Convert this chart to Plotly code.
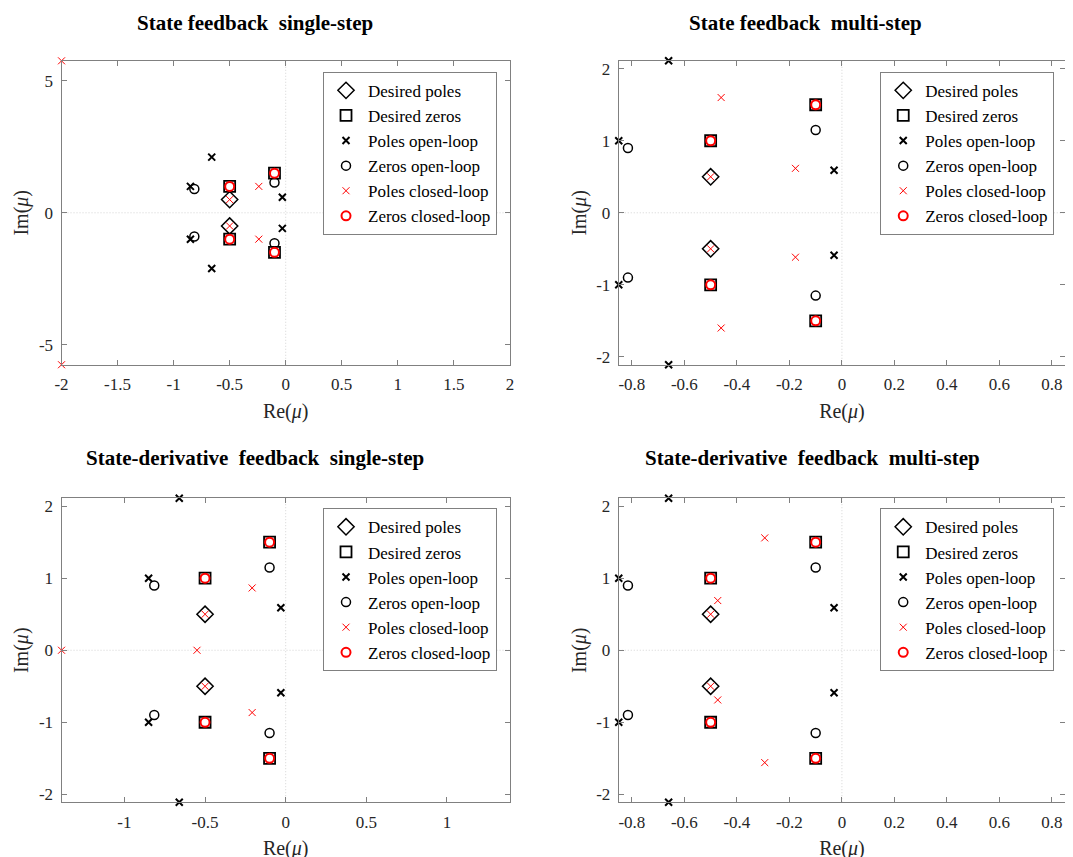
import plotly.graph_objects as go

# ---------------- data ----------------
desired_poles_re = [-0.5, -0.5]
desired_poles_im = [0.5, -0.5]
desired_zeros_re = [-0.5, -0.5, -0.1, -0.1]
desired_zeros_im = [1.0, -1.0, 1.5, -1.5]
ol_poles_re = [-0.85, -0.85, -0.66, -0.66, -0.03, -0.03]
ol_poles_im = [1.0, -1.0, 2.11, -2.11, 0.59, -0.59]
ol_zeros_re = [-0.815, -0.815, -0.1, -0.1]
ol_zeros_im = [0.9, -0.9, 1.15, -1.15]
cl_zeros_re = [-0.5, -0.5, -0.1, -0.1]
cl_zeros_im = [1.0, -1.0, 1.5, -1.5]

sf_single_cl_re = [-2.0, -2.0, -0.24, -0.24, -0.5, -0.5]
sf_single_cl_im = [5.76, -5.76, 1.0, -1.0, 0.5, -0.5]
sf_multi_cl_re = [-0.46, -0.46, -0.177, -0.177, -0.5, -0.5]
sf_multi_cl_im = [1.60, -1.60, 0.617, -0.617, 0.5, -0.5]
sd_single_cl_re = [-1.39, -0.55, -0.208, -0.208, -0.5, -0.5]
sd_single_cl_im = [0.0, 0.0, 0.865, -0.865, 0.5, -0.5]
sd_multi_cl_re = [-0.294, -0.294, -0.473, -0.473, -0.5, -0.5]
sd_multi_cl_im = [1.56, -1.56, 0.69, -0.69, 0.5, -0.5]

titles = ["State feedback  single-step", "State feedback  multi-step",
          "State-derivative  feedback  single-step", "State-derivative  feedback  multi-step"]
legend_names = ["Desired poles", "Desired zeros", "Poles open-loop", "Zeros open-loop",
                "Poles closed-loop", "Zeros closed-loop"]

x_ticks_1 = [-2, -1.5, -1, -0.5, 0, 0.5, 1, 1.5, 2]
x_ticks_2 = [-0.8, -0.6, -0.4, -0.2, 0, 0.2, 0.4, 0.6, 0.8]
x_ticks_3 = [-1, -0.5, 0, 0.5, 1]
y_ticks_1 = [-5, 0, 5]
y_ticks_2 = [-2, -1, 0, 1, 2]

panels = [
    (sf_single_cl_re, sf_single_cl_im, x_ticks_1, y_ticks_1),
    (sf_multi_cl_re, sf_multi_cl_im, x_ticks_2, y_ticks_2),
    (sd_single_cl_re, sd_single_cl_im, x_ticks_3, y_ticks_2),
    (sd_multi_cl_re, sd_multi_cl_im, x_ticks_2, y_ticks_2),
]

# ---------------- layout geometry ----------------
W, H = 1073, 857
OFF = 8  # page body margin


def px(v):
    return (v - OFF) / W


def py(v):
    return 1 - (v - OFF) / H


x_domains = [(px(55), px(508)), (px(618), px(1069))]
y_domains = [(py(365), py(60)), (py(804), py(499))]
# (center x, top y) in page pixels
title_pos = [(250, 8), (807, 8), (250, 445), (814, 445)]
legend_pos = [(495, 71), (1058, 71), (495, 509), (1058, 509)]

FONT = "Liberation Serif, Times New Roman, serif"
AXC = "#808080"
TXT = "#262626"


def fmt(v):
    return "%g" % v


fig = go.Figure()
styles = [
    dict(symbol="diamond-open", size=12.5, color="black", line=dict(width=1.5, color="black")),
    dict(symbol="square-open", size=11, color="black", line=dict(width=1.8, color="black")),
    dict(symbol="x-thin-open", size=7, color="black", line=dict(width=2, color="black")),
    dict(symbol="circle-open", size=9, color="black", line=dict(width=1.5, color="black")),
    dict(symbol="x-thin-open", size=7, color="#ff0000", line=dict(width=1, color="#ff0000")),
    dict(symbol="circle-open", size=9, color="#ff0000", line=dict(width=2, color="#ff0000")),
]

for i, (clre, clim, xt, yt) in enumerate(panels):
    k = "" if i == 0 else str(i + 1)
    leg = "legend" + k
    series = [
        (desired_poles_re, desired_poles_im),
        (desired_zeros_re, desired_zeros_im),
        (ol_poles_re, ol_poles_im),
        (ol_zeros_re, ol_zeros_im),
        (clre, clim),
        (cl_zeros_re, cl_zeros_im),
    ]
    all_re = [abs(v) for s in series for v in s[0]]
    all_im = [abs(v) for s in series for v in s[1]]
    xl, yl = max(all_re), max(all_im)
    for j, (re, im) in enumerate(series):
        fig.add_trace(go.Scatter(
            x=re, y=im, mode="markers", name=legend_names[j], marker=styles[j],
            xaxis="x" + k, yaxis="y" + k, legend=leg, cliponaxis=False, showlegend=True))
    col, row = i % 2, i // 2
    ax = dict(showline=True, linecolor=AXC, linewidth=1, mirror="ticks", ticks="inside",
              ticklen=5, tickcolor=AXC, showgrid=False, zeroline=False, ticklabelstandoff=4,
              tickfont=dict(family=FONT, size=17, color=TXT))
    fig.layout["xaxis" + k] = dict(ax, domain=x_domains[col], range=[-xl, xl],
                                   anchor="y" + k, tickvals=xt, ticktext=[fmt(v) for v in xt],
                                   title=dict(text="Re(<i>μ</i>)", font=dict(family=FONT, size=20, color=TXT), standoff=10))
    fig.layout["yaxis" + k] = dict(ax, domain=y_domains[row], range=[-yl, yl],
                                   anchor="x" + k, tickvals=yt, ticktext=[fmt(v) for v in yt],
                                   title=dict(text="Im(<i>μ</i>)", font=dict(family=FONT, size=20, color=TXT), standoff=4))
    # dotted zero lines
    fig.add_shape(type="line", xref="x" + k, yref="y" + k + " domain", x0=0, x1=0, y0=0, y1=1,
                  line=dict(color="#d4d4d4", width=1, dash="1px,2px"), layer="below")
    fig.add_shape(type="line", xref="x" + k + " domain", yref="y" + k, x0=0, x1=1, y0=0, y1=0,
                  line=dict(color="#d4d4d4", width=1, dash="1px,2px"), layer="below")
    lx, ly = legend_pos[i]
    fig.layout[leg] = dict(x=px(lx), y=py(ly), xanchor="right", yanchor="top",
                           bgcolor="white", bordercolor=AXC, borderwidth=1, itemwidth=34,
                           font=dict(family=FONT, size=17, color="black"))
    tx, ty = title_pos[i]
    fig.add_annotation(text="<b>" + titles[i] + "</b>", x=px(tx), y=py(ty), xref="paper", yref="paper",
                       showarrow=False, xanchor="center", yanchor="top",
                       font=dict(family=FONT, size=21, color="black"))

fig.update_layout(width=W, height=H, margin=dict(l=0, r=0, t=0, b=0),
                  paper_bgcolor="white", plot_bgcolor="white")
fig.write_html("out.html")
